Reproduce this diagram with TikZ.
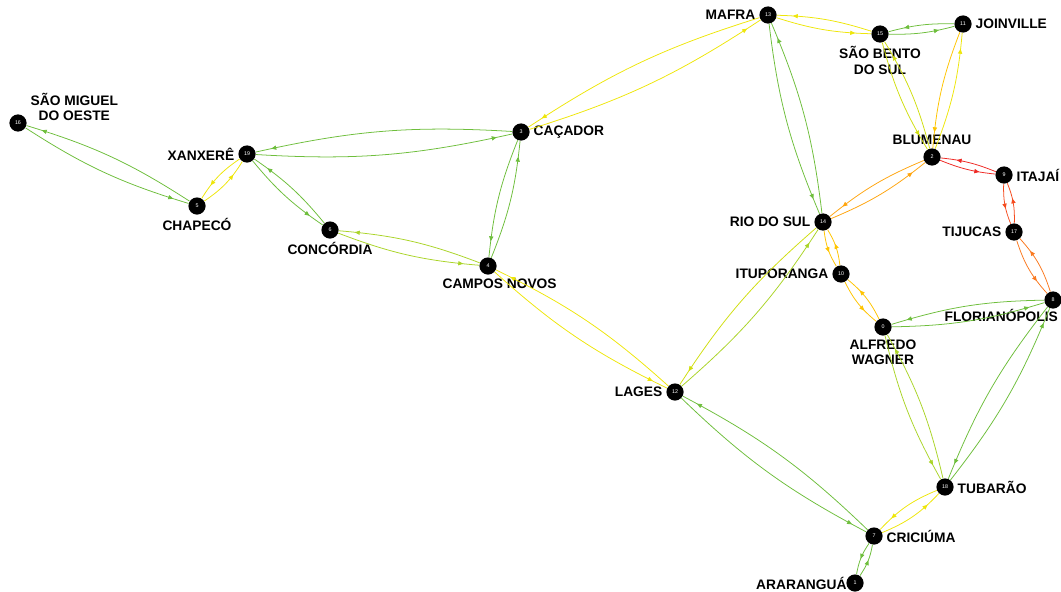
\documentclass[tikz,border=0pt]{standalone}
\usepackage{fontspec}
\setmainfont{Liberation Sans}
\usetikzlibrary{arrows.meta, decorations.markings}

% Link colours
\definecolor{cgreen}{RGB}{110,190,60}
\definecolor{clime}{RGB}{170,212,40}
\definecolor{cyelgr}{RGB}{208,222,15}
\definecolor{cyellow}{RGB}{238,230,10}
\definecolor{cgold}{RGB}{255,196,0}
\definecolor{corange}{RGB}{255,165,15}
\definecolor{cdorange}{RGB}{250,120,30}
\definecolor{credor}{RGB}{245,75,30}
\definecolor{cred}{RGB}{238,40,35}

\begin{document}
\begin{tikzpicture}[
    % GLOBAL CFG
    x=0.025cm, y=-0.025cm,
    font=\bfseries\fontsize{9.8}{11}\selectfont,
    % Styles
    city/.style={% For the cities
        circle,
        fill=black,
        minimum size=0.43cm,
        inner sep=0pt,
        text=white,
        font=\fontsize{3.8}{4}\selectfont,
    },
    citylabel/.style={% For the city names
        font=\bfseries\fontsize{9.8}{11}\selectfont,
        inner sep=1.5pt,
        align=center,
    },
    road/.style={% Directed link, bent to its right
        line width=0.55pt,
        bend right=8,
        postaction={decorate},
        decoration={markings,
            mark=at position -0.4cm with {\arrow{Triangle[length=3.5pt,width=3pt]}}},
    },
    short/.style={% Short links bend a bit more
        bend right=12,
    },
    label distance=1pt,
    ]

    \useasboundingbox (0,0) rectangle (1061,592);

    % Draw cities, west to east
    \node [city, label={[citylabel, anchor=south west]east:{SÃO MIGUEL\\DO OESTE}}] (smoeste) at (18,123) {16};
    \node [city, label={[citylabel]below:CHAPECÓ}] (chapeco) at (197,206) {5};
    \node [city, label={[citylabel]left:XANXERÊ}] (xanxere) at (247,154) {19};
    \node [city, label={[citylabel]below:CONCÓRDIA}] (concordia) at (330,230) {6};
    \node [city, label={[citylabel, xshift=0.29cm]below:CAMPOS NOVOS}] (camposn) at (488,266) {4};
    \node [city, label={[citylabel]right:CAÇADOR}] (cacador) at (521,132) {3};
    \node [city, label={[citylabel]left:LAGES}] (lages) at (675,392) {12};
    \node [city, label={[citylabel]left:MAFRA}] (mafra) at (768,15) {13};
    \node [city, label={[citylabel]left:RIO DO SUL}] (riosul) at (823,222) {14};
    \node [city, label={[citylabel]left:ITUPORANGA}] (itupo) at (841,274) {10};
    \node [city, label={[citylabel, label distance=-2pt]left:ARARANGUÁ}] (ararangua) at (855,583) {1};
    \node [city, label={[citylabel]right:CRICIÚMA}] (criciuma) at (874,536) {7};
    \node [city, label={[citylabel]below:{SÃO BENTO\\DO SUL}}] (sbento) at (880,34) {15};
    \node [city, label={[citylabel]below:{ALFREDO\\WAGNER}}] (awagner) at (883,327) {0};
    \node [city, label={[citylabel]above:BLUMENAU}] (blumenau) at (932,157) {2};
    \node [city, label={[citylabel]right:TUBARÃO}] (tubarao) at (945,487) {18};
    \node [city, label={[citylabel]right:JOINVILLE}] (joinville) at (963,24) {11};
    \node [city, label={[citylabel]right:ITAJAÍ}] (itajai) at (1004,175) {9};
    \node [city, label={[citylabel]left:TIJUCAS}] (tijucas) at (1014,232) {17};
    \node [city, label={[citylabel, anchor=north east]south east:FLORIANÓPOLIS}] (floripa) at (1053,300) {8};

    % Connect all, one link per direction
    % West
    \draw [road, cgreen] (smoeste) to (chapeco);
    \draw [road, cgreen] (chapeco) to (smoeste);
    \draw [road, short, cyellow] (chapeco) to (xanxere);
    \draw [road, short, cyellow] (xanxere) to (chapeco);
    \draw [road, cgreen] (xanxere) to (concordia);
    \draw [road, cgreen] (concordia) to (xanxere);
    \draw [road, cgreen] (xanxere) to (cacador);
    \draw [road, cgreen] (cacador) to (xanxere);
    \draw [road, clime] (concordia) to (camposn);
    \draw [road, clime] (camposn) to (concordia);

    % Middle
    \draw [road, cgreen] (cacador) to (camposn);
    \draw [road, cgreen] (camposn) to (cacador);
    \draw [road, cyellow] (cacador) to (mafra);
    \draw [road, cyellow] (mafra) to (cacador);
    \draw [road, cyellow] (camposn) to (lages);
    \draw [road, cyellow] (lages) to (camposn);
    \draw [road, clime] (lages) to (riosul);
    \draw [road, cyelgr] (riosul) to (lages);
    \draw [road, cgreen] (lages) to (criciuma);
    \draw [road, cgreen] (criciuma) to (lages);

    % North
    \draw [road, cyellow] (mafra) to (sbento);
    \draw [road, cyellow] (sbento) to (mafra);
    \draw [road, cgreen] (mafra) to (riosul);
    \draw [road, cgreen] (riosul) to (mafra);
    \draw [road, cgreen] (sbento) to (joinville);
    \draw [road, cgreen] (joinville) to (sbento);
    \draw [road, cyelgr] (sbento) to (blumenau);
    \draw [road, cyelgr] (blumenau) to (sbento);
    \draw [road, cgold] (joinville) to (blumenau);
    \draw [road, cyellow] (blumenau) to (joinville);

    % Coast
    \draw [road, corange] (blumenau) to (riosul);
    \draw [road, corange] (riosul) to (blumenau);
    \draw [road, cred] (blumenau) to (itajai);
    \draw [road, cred] (itajai) to (blumenau);
    \draw [road, short, credor] (itajai) to (tijucas);
    \draw [road, short, credor] (tijucas) to (itajai);
    \draw [road, short, cdorange] (tijucas) to (floripa);
    \draw [road, short, cdorange] (floripa) to (tijucas);
    \draw [road, cgreen] (floripa) to (awagner);
    \draw [road, cgreen] (awagner) to (floripa);
    \draw [road, cgreen] (floripa) to (tubarao);
    \draw [road, cgreen] (tubarao) to (floripa);

    % South
    \draw [road, short, cgold] (riosul) to (itupo);
    \draw [road, short, cgold] (itupo) to (riosul);
    \draw [road, short, cgold] (itupo) to (awagner);
    \draw [road, short, cgold] (awagner) to (itupo);
    \draw [road, clime] (awagner) to (tubarao);
    \draw [road, clime] (tubarao) to (awagner);
    \draw [road, short, cyellow] (tubarao) to (criciuma);
    \draw [road, short, cyellow] (criciuma) to (tubarao);
    \draw [road, short, cgreen] (criciuma) to (ararangua);
    \draw [road, short, cgreen] (ararangua) to (criciuma);

\end{tikzpicture}
\end{document}
